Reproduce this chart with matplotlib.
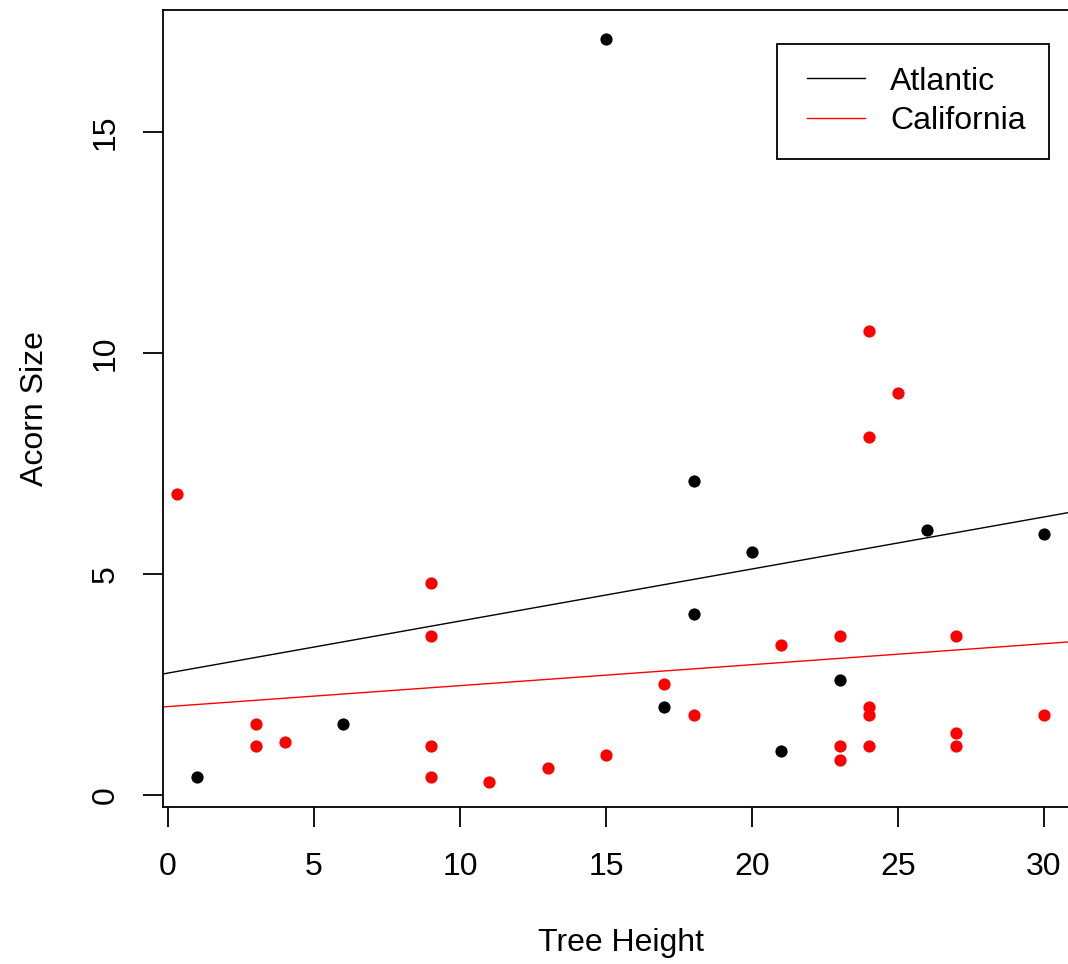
import numpy as np
import matplotlib
matplotlib.use("Agg")
import matplotlib.pyplot as plt
from matplotlib.lines import Line2D
from matplotlib.legend_handler import HandlerLine2D

# --- Data ---
atl_height = [1, 6, 15, 17, 18, 18, 20, 21, 23, 26, 30]
atl_acorn = [0.4, 1.6, 17.1, 2.0, 7.1, 4.1, 5.5, 1.0, 2.6, 6.0, 5.9]

cal_height = [0.3, 3, 3, 4, 9, 9, 9, 9, 11, 13, 15, 17, 18, 21, 23, 23, 23,
              24, 24, 24, 24, 24, 25, 27, 27, 27, 30]
cal_acorn = [6.8, 1.6, 1.1, 1.2, 4.8, 3.6, 1.1, 0.4, 0.3, 0.6, 0.9, 2.5, 1.8,
             3.4, 3.6, 1.1, 0.8, 10.5, 8.1, 2.0, 1.8, 1.1, 9.1, 3.6, 1.4, 1.1, 1.8]

x_ticks = [0, 5, 10, 15, 20, 25, 30]
y_ticks = [0, 5, 10, 15]

plt.rcParams["font.family"] = ["Liberation Sans", "DejaVu Sans"]
fs = 23

# --- Figure / axes (R base-graphics look) ---
W, H = 1068, 964
fig = plt.figure(figsize=(W / 100, H / 100), dpi=100)
left, right, top, bottom = 163.3, 1077.9, 9.7, 806.8
ax = fig.add_axes([left / W, 1 - bottom / H, (right - left) / W, (bottom - top) / H])

# R-style 4% extension of the first series' range
def r_lim(v):
    lo, hi = min(v), max(v)
    d = 0.04 * (hi - lo)
    return lo - d, hi + d

ax.set_xlim(*r_lim(atl_height))
ax.set_ylim(*r_lim(atl_acorn))

# points
ax.plot(atl_height, atl_acorn, "o", color="black", ms=8.8, mew=0, zorder=3)
ax.plot(cal_height, cal_acorn, "o", color="red", ms=8.8, mew=0, zorder=3)

# regression lines (abline style, across full plot)
xs = np.array(ax.get_xlim())
for hx, hy, col, lab in [(atl_height, atl_acorn, "black", "Atlantic"),
                         (cal_height, cal_acorn, "red", "California")]:
    b, a = np.polyfit(hx, hy, 1)
    ax.plot(xs, a + b * xs, color=col, lw=1.0, label=lab, zorder=2)
ax.set_xlim(*r_lim(atl_height))

# axes styling
for sp in ax.spines.values():
    sp.set_linewidth(1.3)
ax.set_xticks(x_ticks)
ax.set_yticks(y_ticks)
ax.tick_params(direction="out", length=14.4, width=1.3, labelsize=fs, pad=18)
ax.tick_params(axis="y", labelrotation=90, pad=16.5)
for lab in ax.get_yticklabels():
    lab.set_va("center")

ax.set_xlabel("Tree Height", fontsize=fs, labelpad=33)
ax.set_ylabel("Acorn Size", fontsize=fs, labelpad=29)

# legend laid out like R's legend(): line starts in from the left edge
leg = ax.legend(loc="upper right", bbox_to_anchor=(1049 / W, 1 - 43.5 / H),
                bbox_transform=fig.transFigure, borderaxespad=0,
                fontsize=fs, frameon=True, fancybox=False,
                edgecolor="black", framealpha=1, handlelength=2.035,
                handletextpad=0.8, labelspacing=0.29, borderpad=0.72,
                handler_map={Line2D: HandlerLine2D(xpad=0.22)})
leg.get_frame().set_linewidth(1.3)

fig.savefig("out.png", dpi=100)
